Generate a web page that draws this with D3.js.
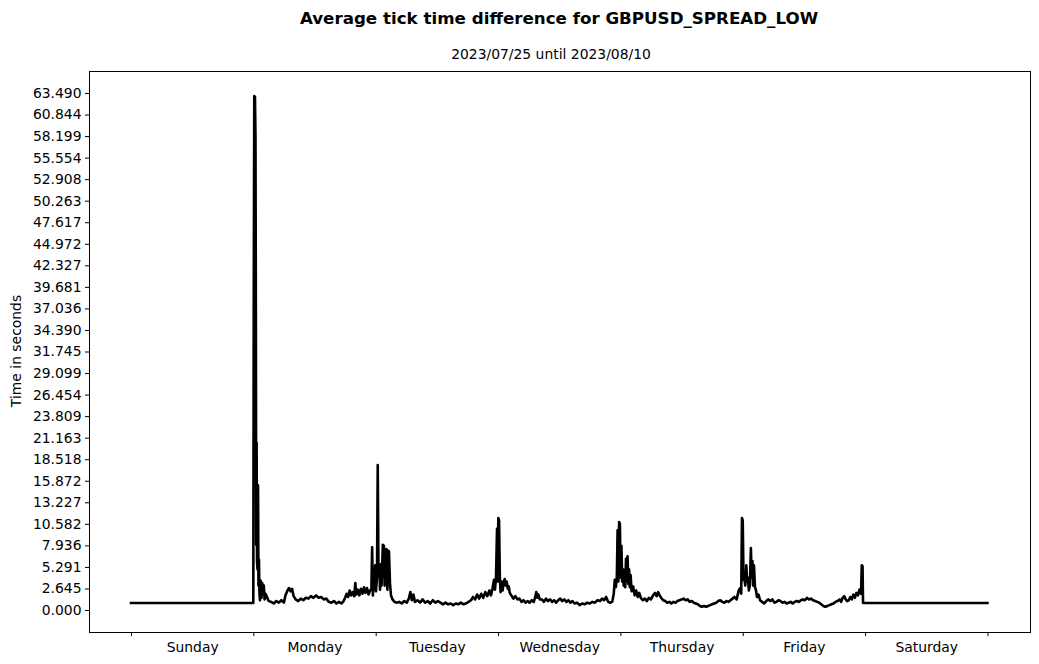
<!DOCTYPE html>
<html><head><meta charset="utf-8">
<script src="https://cdn.jsdelivr.net/npm/d3@7"></script>
<style>body{margin:0;background:#fff}svg{display:block;font-family:"DejaVu Sans",sans-serif}</style>
</head><body><svg id="c" width="1039" height="664"></svg>
<script>
const title = "Average tick time difference for GBPUSD_SPREAD_LOW";
const subtitle = "2023/07/25 until 2023/08/10";
const yLabel = "Time in seconds";
const dayLabels = ["Sunday","Monday","Tuesday","Wednesday","Thursday","Friday","Saturday"];
const yTickValues = [0.000,2.645,5.291,7.936,10.582,13.227,15.872,18.518,21.163,23.809,26.454,29.099,31.745,34.390,37.036,39.681,42.327,44.972,47.617,50.263,52.908,55.554,58.199,60.844,63.490];
// hours since Sunday 00:00
const hours = [0,23.9,23.99,24.08,24.18,24.32,24.42,24.5,24.56,24.64,24.72,24.82,24.92,25.0,25.1,25.2,25.3,25.45,25.6,25.75,25.9,26.05,26.2,26.4,
27.0,27.5,28.0,28.5,29.0,29.5,30.0,30.3,30.7,31.0,31.3,31.6,31.9,32.3,32.8,33.3,33.8,34.3,34.8,35.3,35.8,36.3,36.8,37.3,37.8,38.3,
38.8,39.3,39.8,40.3,40.8,41.3,41.7,42.0,42.3,42.6,42.9,43.2,43.5,43.8,44.0,44.2,44.5,44.8,45.1,45.4,45.7,46.0,46.3,46.6,46.9,
47.15,47.3,47.45,47.6,47.75,47.9,48.05,48.25,48.4,48.55,48.7,48.85,49.0,49.15,49.4,49.6,49.75,49.9,50.1,50.3,50.45,50.6,50.8,51.0,
51.3,51.7,52.1,52.6,53.1,53.6,54.1,54.5,54.8,55.1,55.4,55.7,56.2,56.7,57.2,57.7,58.2,58.7,59.2,59.7,60.2,
60.7,61.2,61.7,62.2,62.7,63.2,63.7,64.2,64.7,65.2,65.7,66.2,66.7,67.1,67.5,67.9,68.3,68.7,69.1,69.5,69.9,70.3,
70.6,70.9,71.2,71.4,71.6,71.8,71.95,72.05,72.2,72.35,72.5,72.7,72.9,73.1,73.3,73.5,73.7,73.9,74.1,74.3,
74.6,75.0,75.4,75.8,76.2,76.6,77.0,77.4,77.8,78.2,78.6,79.0,79.3,79.5,79.7,79.9,80.2,
80.6,81.0,81.4,81.8,82.2,82.6,83.0,83.4,83.8,84.2,84.6,85.0,85.4,85.8,86.2,86.6,87.0,
87.5,88.0,88.5,89.0,89.5,90.0,90.5,91.0,91.5,92.0,92.4,92.8,93.2,93.6,94.0,94.4,
94.7,94.9,95.1,95.3,95.45,95.6,95.75,95.9,96.05,96.2,96.35,96.5,96.65,96.8,96.95,97.1,97.25,97.4,97.55,97.7,97.85,98.0,98.2,98.5,98.8,99.1,99.4,99.7,100.0,
100.4,100.8,101.2,101.6,102.0,102.4,102.8,103.1,103.4,103.7,104.0,104.4,104.8,
105.2,105.6,106.0,106.4,106.8,107.2,107.6,108.0,108.4,108.8,109.2,109.6,110.0,110.4,110.8,111.2,
111.6,112.0,112.4,112.8,113.2,113.6,114.0,114.4,114.8,115.2,115.6,116.0,116.4,116.8,117.2,117.6,118.0,118.4,118.8,119.2,119.5,119.7,
119.85,120.0,120.15,120.3,120.5,120.7,120.85,121.0,121.2,121.4,121.6,121.75,121.9,122.05,122.2,122.4,122.6,122.8,123.1,123.4,
123.8,124.2,124.6,125.0,125.4,125.8,126.2,126.6,127.0,127.4,127.8,128.2,128.6,129.0,129.4,129.8,130.2,130.6,131.0,131.4,131.8,
132.2,132.6,133.0,133.4,133.8,134.2,134.6,135.0,135.4,135.8,136.2,136.6,137.0,137.4,137.8,138.2,138.6,139.0,139.3,139.6,139.9,
140.2,140.5,140.8,141.1,141.4,141.7,142.0,142.3,142.6,142.9,143.2,143.35,143.5,143.6,168];
const seconds = [0.86,0.86,0.86,39,63.1,63.0,58,34.8,8,20.5,6,5,15.3,3,6.2,2.0,1.2,3.6,1.5,3.3,2.2,3.0,1.3,2.0,
1.1,1.0,0.8,1.1,0.9,1.2,0.9,1.8,2.4,2.7,2.3,2.6,1.7,1.3,1.1,1.4,1.2,1.5,1.4,1.7,1.5,1.8,1.5,1.6,1.3,1.4,
1.0,0.9,1.1,0.8,1.0,0.8,1.1,1.5,2.0,1.6,2.4,1.8,2.2,1.7,3.3,1.9,2.5,1.8,2.6,2.0,2.8,2.1,2.7,1.9,2.4,
2.5,7.7,1.8,4.0,2.5,5.5,2.3,4.0,17.8,4.5,5.5,2.5,5.6,3.0,8.0,7.9,3.0,5.0,7.5,2.5,7.3,7.2,3.3,1.8,
1.3,1.0,0.9,1.0,0.8,1.1,0.9,1.4,2.2,1.2,1.9,1.0,1.2,0.9,1.3,0.9,1.1,0.8,1.2,0.9,1.1,
0.9,0.7,0.9,0.7,0.8,0.6,0.8,0.7,0.9,0.7,0.8,1.0,1.2,1.6,1.3,1.9,1.4,2.0,1.5,2.2,1.7,2.4,
1.8,2.6,3.7,2.5,4.0,10.0,3.5,11.3,11.0,4.0,2.2,3.5,2.4,3.4,3.8,3.0,3.5,2.6,2.9,2.1,
1.8,1.4,1.7,1.3,1.4,1.0,1.2,0.9,1.1,0.9,1.2,1.0,1.6,2.2,1.5,1.9,1.3,
1.3,1.0,1.4,1.1,1.3,1.0,1.2,0.9,1.2,1.4,1.1,1.3,1.0,1.2,0.9,1.1,0.8,
0.9,0.6,0.8,0.7,0.9,0.8,1.0,0.9,1.2,1.1,1.4,1.2,1.6,1.0,0.9,1.0,
2.0,3.7,2.8,4.0,9.8,3.5,10.8,10.6,4.0,7.9,3.5,5.0,3.0,4.9,2.8,6.3,3.5,6.6,3.2,5.0,2.8,4.3,2.3,2.9,1.8,2.4,1.6,2.1,1.5,
1.2,1.4,1.1,1.5,1.3,1.8,2.1,1.7,2.2,1.8,1.5,1.2,1.1,
0.9,1.0,0.8,1.0,0.9,1.1,1.2,1.3,1.4,1.2,1.3,1.0,1.1,0.9,0.8,0.7,
0.5,0.4,0.5,0.4,0.5,0.6,0.7,0.8,0.9,1.1,1.2,1.0,0.9,1.1,1.0,1.2,1.4,1.6,1.3,2.4,2.7,2.0,
11.3,11.0,3.7,4.0,3.0,5.5,3.5,4.0,2.4,3.0,7.6,4.0,6.0,3.0,5.5,2.8,2.4,1.6,1.9,1.2,
1.0,0.8,1.1,1.3,1.1,1.3,0.9,1.0,1.2,1.1,0.9,1.0,0.8,0.9,1.0,0.8,1.0,1.1,1.0,1.2,1.3,
1.2,1.5,1.3,1.4,1.2,1.1,1.0,0.9,0.7,0.5,0.4,0.5,0.6,0.7,0.8,1.0,1.1,1.3,1.0,1.5,1.7,
1.3,1.1,1.2,1.6,1.3,1.9,1.5,2.1,1.8,2.5,2.0,5.5,5.4,0.86,0.86];

const svg = d3.select("#c");
const L = 89, R = 1030, T = 71, B = 632;
const x = d3.scaleLinear().domain([-8.24, 176.35]).range([L, R]);
const y = d3.scaleLinear().domain([-2.70, 66.19]).range([B, T]);

// line
const data = hours.map((h, i) => [h, seconds[i]]);
svg.append("path").datum(data)
  .attr("fill", "none").attr("stroke", "#000").attr("stroke-width", 2.6)
  .attr("stroke-linejoin", "round").attr("stroke-linecap", "square")
  .attr("d", d3.line().x(d => x(d[0])).y(d => y(d[1])));

// y axis
const yAxis = d3.axisLeft(y).tickValues(yTickValues).tickFormat(d3.format(".3f")).tickSize(4).tickPadding(3.5);
const gy = svg.append("g").attr("transform", `translate(${L},0)`).call(yAxis);
gy.select(".domain").remove();
gy.selectAll("text").attr("font-size", 13.9).attr("font-family", "DejaVu Sans").attr("fill", "#000");

// x axis: ticks at day boundaries, labels at day centres
const dayTicks = d3.range(0, 8).map(d => d * 24);
const xAxis = d3.axisBottom(x).tickValues(dayTicks).tickFormat("").tickSize(4);
const gx = svg.append("g").attr("transform", `translate(0,${B})`).call(xAxis);
gx.select(".domain").remove();
const xLab = d3.axisBottom(x).tickValues(dayTicks.slice(0, 7).map(d => d + 12))
  .tickFormat((d, i) => dayLabels[i]).tickSize(0).tickPadding(10);
const gx2 = svg.append("g").attr("transform", `translate(0,${B})`).call(xLab);
gx2.select(".domain").remove();
gx2.selectAll("text").attr("font-size", 13.9).attr("font-family", "DejaVu Sans").attr("fill", "#000");

// frame
svg.append("rect").attr("x", L + 0.5).attr("y", T + 0.5).attr("width", R - L).attr("height", B - T)
  .attr("fill", "none").attr("stroke", "#000").attr("stroke-width", 1);

// titles
svg.append("text").attr("x", 559).attr("y", 24).attr("text-anchor", "middle")
  .attr("font-size", 16.7).attr("font-weight", "bold").text(title);
svg.append("text").attr("x", 551).attr("y", 59).attr("text-anchor", "middle")
  .attr("font-size", 13.9).text(subtitle);
svg.append("text").attr("transform", "translate(21,351) rotate(-90)").attr("text-anchor", "middle")
  .attr("font-size", 13.9).text(yLabel);
</script></body></html>
